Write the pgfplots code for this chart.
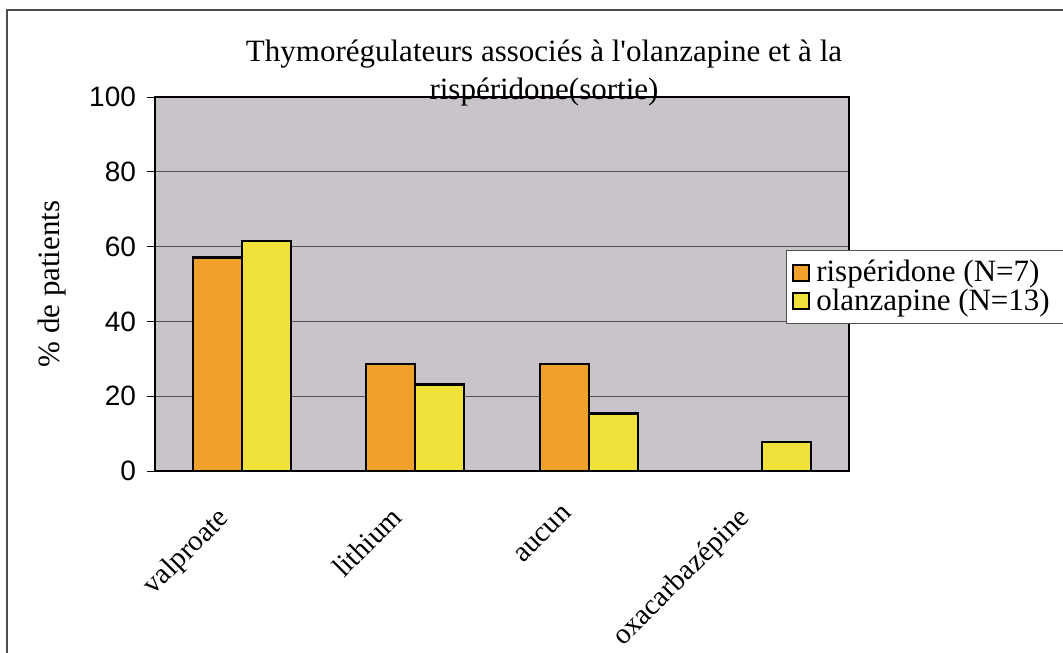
\documentclass[border=0pt]{standalone}
\usepackage{fontspec}
\setmainfont{Liberation Serif}
\newfontfamily\arial{Liberation Sans}
\newfontfamily\plainserif{Liberation Serif}
\usepackage{pgfplots}
\pgfplotsset{compat=1.18}
\definecolor{bgc}{HTML}{C8C4CA}
\definecolor{oran}{HTML}{F0A02C}
\definecolor{yell}{HTML}{F0E23A}
\definecolor{gridc}{HTML}{505050}
\begin{document}
\begin{tikzpicture}
\path[use as bounding box] (0,0) rectangle (531.5pt,-326pt);
\draw[gray!60!black, line width=0.6pt] (3.5pt,-330pt) -- (3.5pt,-5pt) -- (540pt,-5pt);
\begin{axis}[
  at={(77.5pt,-235.5pt)}, anchor=south west,
  scale only axis, width=347pt, height=187pt,
  xmin=-0.5, xmax=3.5, ymin=0, ymax=100,
  axis background/.style={fill=bgc},
  axis line style={black, line width=0.6pt},
  ytick={0,20,40,60,80,100},
  ymajorgrids, grid style={gridc, line width=0.6pt},
  tick align=outside, tick pos=left,
  major tick length=4pt,
  tick style={black, line width=0.5pt},
  yticklabel style={font=\arial\fontsize{14}{14}\selectfont, xshift=-2pt},
  /pgf/number format/assume math mode=true,
  xtick={0,1,2,3},
  xticklabels={valproate,lithium,aucun,oxacarbazépine},
  x tick style={draw=none},
  xticklabel style={xshift=-13pt, yshift=-8pt, rotate=45, anchor=north east, font=\fontsize{14.5}{14.5}\selectfont},
  extra x ticks={-0.5,0.5,1.5,2.5,3.5},
  extra x tick labels={},
  extra x tick style={tick style={draw=black, line width=0.5pt}, major tick length=4pt},
  ylabel={\% de patients},
  ylabel style={at={(axis description cs:-0.148,0.5)}, anchor=center, font=\fontsize{15.5}{15.5}\selectfont},
  legend style={at={(0.909,0.591)}, anchor=north west, draw=gridc, fill=white,
    font=\fontsize{15.5}{15.5}\selectfont, legend cell align=left, row sep=-2pt,
    column sep=1pt, inner xsep=3pt, inner ysep=3pt},
  legend image code/.code={\draw[#1, draw=black, line width=1pt] (0pt,-4pt) rectangle (8pt,4pt);},
]
\addplot[ybar, bar width=24.5pt, bar shift=-12.25pt, fill=oran, draw=black, line width=1.2pt]
  coordinates {(0,57.1) (1,28.6) (2,28.6) (3,0)};
\addlegendentry{rispéridone (N=7)\hspace*{12pt}}
\addplot[ybar, bar width=24.5pt, bar shift=12.25pt, fill=yell, draw=black, line width=1.2pt]
  coordinates {(0,61.5) (1,23.1) (2,15.4) (3,7.7)};
\addlegendentry{olanzapine (N=13)\hspace*{12pt}}
\end{axis}
\node[anchor=base, font=\plainserif\fontsize{15.5}{15.5}\selectfont] at (272pt,-31pt) {Thymorégulateurs associés à l'olanzapine et à la};
\node[anchor=base, font=\plainserif\fontsize{15.5}{15.5}\selectfont] at (272pt,-50pt) {rispéridone(sortie)};
\end{tikzpicture}
\end{document}
